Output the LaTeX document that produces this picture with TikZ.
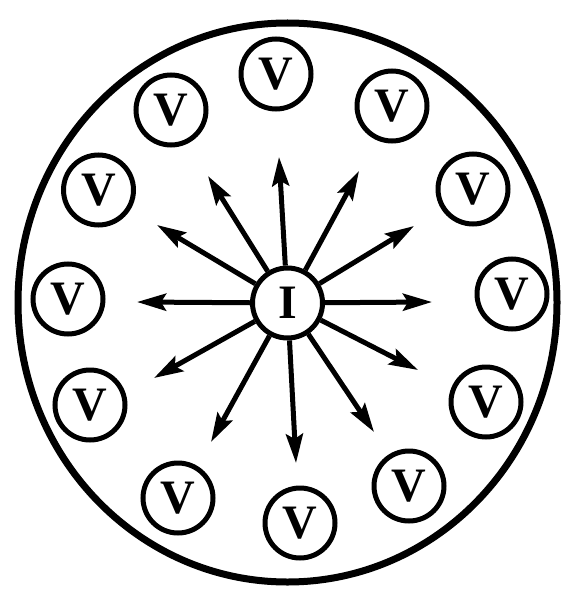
\documentclass[tikz,border=0pt]{standalone}
\usepackage{fontspec}
\setmainfont{Liberation Serif}
\usetikzlibrary{arrows.meta}

\begin{document}
\begin{tikzpicture}[x=1pt, y=-1pt,
    >={Stealth[length=29pt, width=17pt, inset=5pt]},
    cell/.style={circle, draw, line width=5pt, minimum size=70pt,
                 inner sep=0pt, font=\fontsize{48}{48}\selectfont\bfseries},
    ray/.style={->, line width=5pt}]
  \useasboundingbox (0,0) rectangle (566,591);

  % Outer boundary
  \draw[line width=7pt] (287.5,302.5) ellipse [x radius=269.5, y radius=279.5];

  % Centre
  \node[cell] (I) at (287.5,303) {I};

  % Ring of V cells
  \foreach \n/\x/\y in {1/276/74, 2/392/106, 3/473/189, 4/512/294,
                        5/486/402, 6/409/486, 7/300/523, 8/178/498,
                        9/90/405, 10/68/299, 11/98.5/190, 12/171/110} {
    \node[cell] (v\n) at (\x,\y) {V};
  }

  % Rays
  \foreach \n/\x/\y in {1/279/157, 2/359/171, 3/414/226, 4/432/302,
                        5/418/370, 6/374/432, 7/296/463, 8/211/442,
                        9/154/378, 10/137/302, 11/157/225, 12/208/176} {
    \coordinate (t\n) at (\x,\y);
    \draw[ray] (I) -- (t\n);
  }
\end{tikzpicture}
\end{document}
